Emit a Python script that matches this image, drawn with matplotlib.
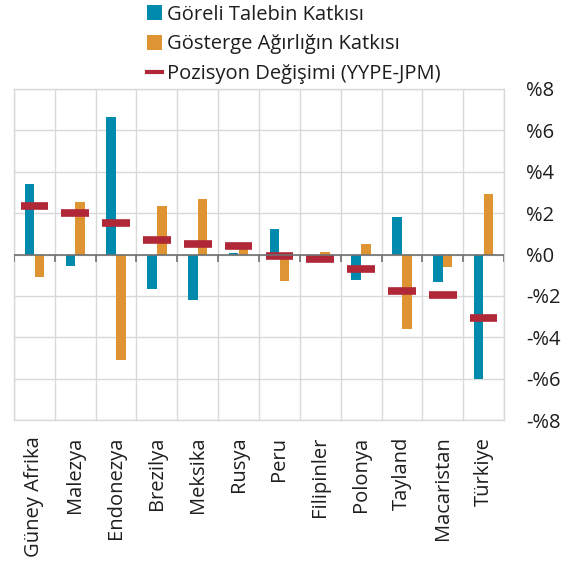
import matplotlib
matplotlib.use("Agg")
import matplotlib.pyplot as plt
import numpy as np
from matplotlib.patches import Patch
from matplotlib.lines import Line2D

categories = ["Güney Afrika", "Malezya", "Endonezya", "Brezilya", "Meksika", "Rusya",
              "Peru", "Filipinler", "Polonya", "Tayland", "Macaristan", "Türkiye"]
relative_demand = [3.40, -0.55, 6.63, -1.67, -2.18, 0.05, 1.21, 0.0, -1.21, 1.81, -1.33, -6.04]
benchmark_weight = [-1.09, 2.54, -5.10, 2.34, 2.68, 0.25, -1.30, 0.13, 0.50, -3.59, -0.60, 2.93]
position_change = [2.33, 2.02, 1.53, 0.71, 0.53, 0.39, -0.07, -0.21, -0.71, -1.78, -1.96, -3.09]
yticks = [8, 6, 4, 2, 0, -2, -4, -6, -8]
ytick_labels = ["%8", "%6", "%4", "%2", "%0", "-%2", "-%4", "-%6", "-%8"]
legend_labels = ["Göreli Talebin Katkısı", "Gösterge Ağırlığın Katkısı", "Pozisyon Değişimi (YYPE-JPM)"]

BLUE = "#008BAE"
ORANGE = "#DE9432"
RED = "#B02838"
GRID = "#D9D9D9"
TEXT = "#1E1E1E"

plt.rcParams['font.family'] = ['Open Sans', 'DejaVu Sans']

fig = plt.figure(figsize=(5.74, 5.67), dpi=100)
ax = fig.add_axes([14/574, 1-420/567, 490/574, 331/567])

x = np.arange(len(categories))
w = 0.23
off = 0.12
ax.bar(x - off, relative_demand, width=w, color=BLUE, zorder=3)
ax.bar(x + off, benchmark_weight, width=w, color=ORANGE, zorder=3)
ax.errorbar(x, position_change, xerr=0.34, fmt='none', ecolor=RED, elinewidth=5.5,
            capsize=0, zorder=4)

ax.set_xlim(-0.5, len(categories) - 0.5)
ax.set_ylim(-8, 8)

ax.set_yticks(yticks)
ax.set_yticklabels(ytick_labels)
ax.yaxis.tick_right()
ax.tick_params(axis='y', length=0, pad=16, labelsize=14.5, colors=TEXT)
for lbl in ax.get_yticklabels():
    lbl.set_horizontalalignment('left')

ax.set_xticks(x)
ax.set_xticklabels(categories, rotation=90, fontsize=14.5, color=TEXT)
ax.tick_params(axis='x', length=0, pad=12)

ax.set_xticks(np.arange(-0.5, len(categories), 1), minor=True)
ax.grid(True, which='minor', axis='x', color=GRID, linewidth=1.0, zorder=0)
ax.grid(True, which='major', axis='y', color=GRID, linewidth=1.0, zorder=0)
ax.tick_params(axis='x', which='minor', length=0)

for s in ax.spines.values():
    s.set_color(GRID)
    s.set_linewidth(1.0)

ax.axhline(0, color="#707070", linewidth=1.2, zorder=5)
ax.vlines(np.arange(-0.5, len(categories), 1), -0.35, 0, color="#707070", linewidth=1.2, zorder=5)

handles = [Patch(facecolor=BLUE), Patch(facecolor=ORANGE),
           Line2D([0], [0], color=RED, linewidth=3)]
fig.legend(handles, legend_labels, loc='upper left', bbox_to_anchor=(139/574, 1.006),
           frameon=False, fontsize=14.5, handlelength=0.75, handleheight=0.75,
           handletextpad=0.25, labelspacing=0.48, borderaxespad=0, labelcolor=TEXT)

fig.savefig("out.png", dpi=100)
